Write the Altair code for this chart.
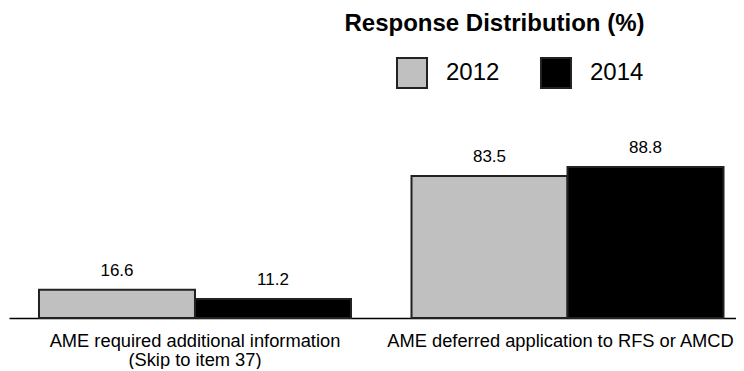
import altair as alt
import pandas as pd

categories = ["AME required additional information|(Skip to item 37)",
              "AME deferred application to RFS or AMCD"]
years = ["2012", "2014"]
values_2012 = [16.6, 83.5]
values_2014 = [11.2, 88.8]
colors = ["#C0C0C0", "#000000"]

rows = []
for c, a, b in zip(categories, values_2012, values_2014):
    rows.append({"category": c, "year": years[0], "value": a})
    rows.append({"category": c, "year": years[1], "value": b})
df = pd.DataFrame(rows)

font = "Liberation Sans"

x = alt.X("category:N", sort=categories,
          scale=alt.Scale(paddingInner=0.1624, paddingOuter=0.057, align=0.706),
          axis=alt.Axis(title=None, labelAngle=0, labelExpr="split(datum.label, '|')",
                        labelFontSize=18.3, labelFont=font, labelColor="#000",
                        labelOffset={"condition": {"test": "indexof(datum.value, 'deferred') >= 0",
                                                   "value": -7}, "value": 0},
                        ticks=False, domainColor="#000", domainWidth=1.3,
                        labelPadding=14, labelLineHeight=19, labelLimit=400, grid=False))
xo = alt.XOffset("year:N", sort=years, scale=alt.Scale(paddingInner=0, paddingOuter=0))
y = alt.Y("value:Q", scale=alt.Scale(domain=[0, 100]), axis=None)

bars = alt.Chart(df).mark_bar(stroke="#222222", strokeWidth=2).encode(
    x=x, xOffset=xo, y=y,
    color=alt.Color("year:N", scale=alt.Scale(domain=years, range=colors),
                    legend=alt.Legend(orient="none", legendX=387, legendY=-91,
                                      direction="horizontal", title=None,
                                      symbolType="square", symbolSize=900,
                                      symbolStrokeColor="#222222", symbolStrokeWidth=2,
                                      labelFontSize=24, labelFont=font, labelColor="#000",
                                      labelOffset=18, columnPadding=37, padding=0))
)

text = alt.Chart(df).mark_text(dy=-14, fontSize=17, font=font, baseline="alphabetic",
                               color="#000").encode(
    x=x, xOffset=xo, y=y, text=alt.Text("value:Q", format=".1f")
)

chart = alt.layer(bars, text).properties(
    width=727, height=170,
    padding={"left": 1, "top": 4, "right": 0, "bottom": 0},
    title=alt.TitleParams("Response Distribution (%)", fontSize=24, font=font,
                          fontWeight="bold", color="#000", dx=122, offset=21,
                          anchor="middle")
).configure_view(stroke=None)

chart.save("out.html", embed_options={"renderer": "svg", "actions": False})
